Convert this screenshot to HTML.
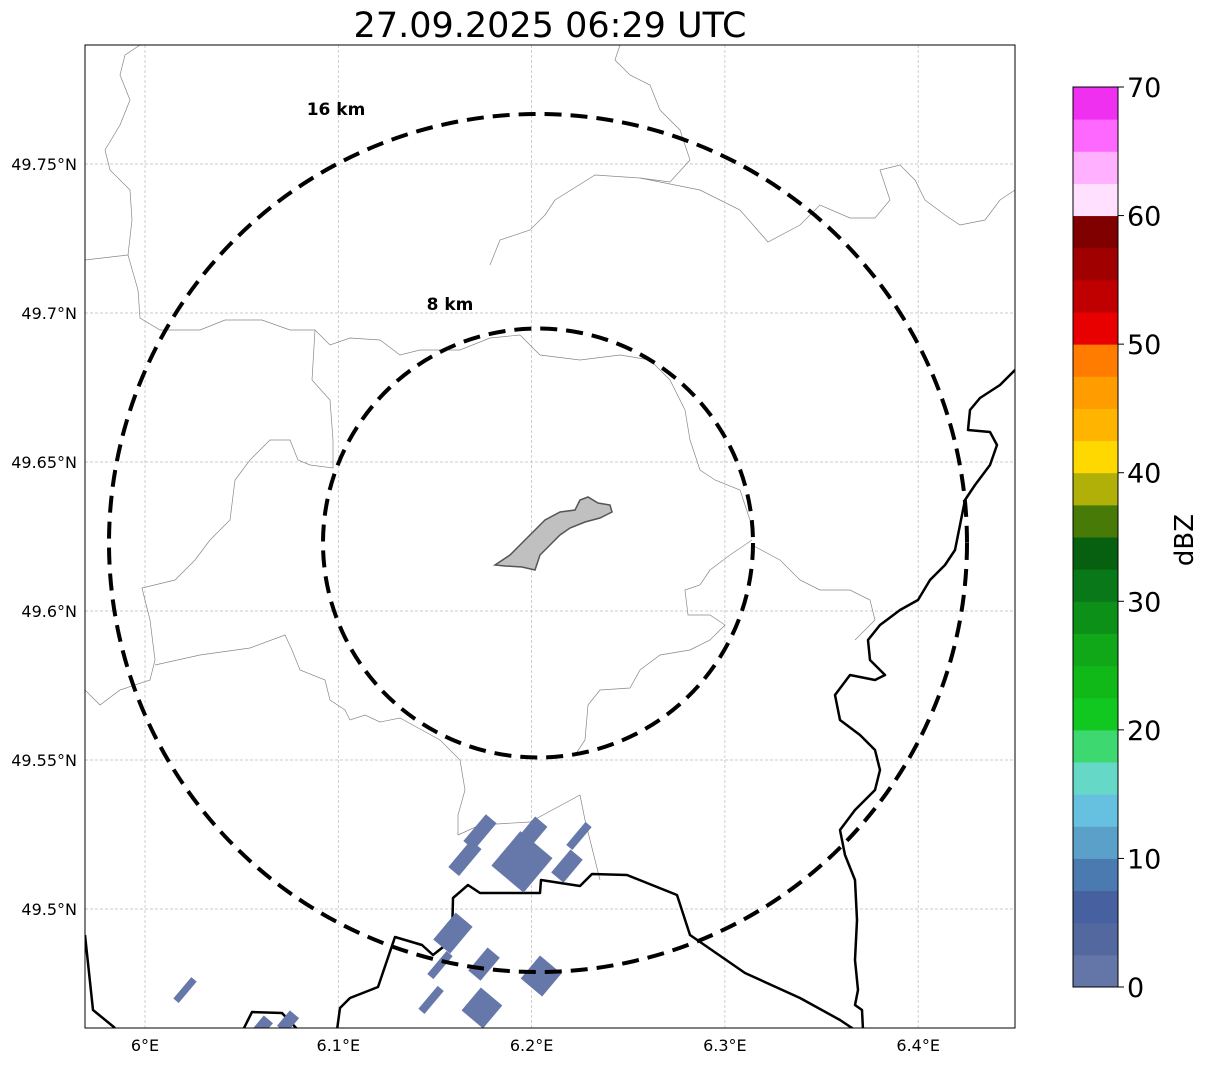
<!DOCTYPE html>
<html><head><meta charset="utf-8"><style>
body{margin:0;background:#fff;font-family:"DejaVu Sans",sans-serif}
svg text{font-family:"DejaVu Sans","Liberation Sans",sans-serif}
</style></head><body>
<svg id="c" width="1207" height="1064" viewBox="0 0 1207 1064">
<text x="550" y="37" font-size="35" text-anchor="middle">27.09.2025 06:29 UTC</text>
<defs><clipPath id="clip"><rect x="85" y="45" width="930" height="983"/></clipPath></defs>
<g id="grid"></g>
<g clip-path="url(#clip)">
<g fill="none" stroke="#888" stroke-width="0.7">
<path d="M85,260 L128,255 L138,290 L140,318 L160,330 L200,330 L225,320 L262,320 L290,330 L315,330 L330,345 L350,338 L380,340 L400,355 L420,350 L460,350 L490,338 L520,335 L540,355 L580,360 L620,355 L650,360 L670,380 L685,410 L690,440 L700,470 L715,480 L740,490 L750,520"/>
<path d="M128,255 L132,220 L130,190 L110,170 L105,150 L120,125 L130,100 L120,75 L125,55 L140,45"/>
<path d="M315,330 L312,380 L330,400 L333,440 L333,468 L310,465 L298,460 L290,440 L270,440 L250,460 L235,480 L230,520 L210,540 L195,560 L175,580 L142,588 L150,620 L155,660 L150,680 L120,690 L100,705 L85,690"/>
<path d="M155,665 L200,655 L250,648 L285,635 L292,650 L300,670 L325,680 L330,700 L345,710 L350,720 L365,715 L380,722 L400,718 L440,740 L460,760 L465,790 L458,815 L458,835"/>
<path d="M458,835 L480,825 L530,822 L580,795 L585,820 L600,880"/>
<path d="M575,755 L585,740 L588,705 L600,690 L630,688 L640,670 L660,655 L690,650 L710,640 L725,625 L710,615 L688,615 L685,590 L700,585 L710,570 L730,555 L752,540"/>
<path d="M752,545 L780,560 L800,580 L820,590 L850,590 L870,600 L875,620 L855,640"/>
<path d="M490,265 L500,240 L530,230 L545,215 L555,200 L595,175 L640,178 L670,182 L690,160 L680,130 L660,110 L650,85 L630,75 L615,60 L620,45"/>
<path d="M640,178 L700,190 L740,210 L768,242 L800,225 L820,205 L850,218 L875,218 L890,200 L880,170 L900,165 L915,180 L925,200 L945,215 L960,225 L985,220 L1000,200 L1015,190"/>
</g>
<g fill="none" stroke="#000" stroke-width="2.5" stroke-linejoin="round">
<path d="M85,935 L93,1010 L115,1028"/>
<path d="M243,1030 L252,1012 L282,1013 L298,1030"/>
<path d="M337,1030 L340,1008 L350,998 L378,987 L395,937 L422,945 L433,955 L452,940 L453,898 L468,885 L480,893 L540,893 L541,880 L580,886 L592,874 L627,875 L677,895 L690,935 L745,973 L800,998 L840,1020 L855,1030"/>
<path d="M1015,370 L1000,385 L980,398 L970,410 L968,430 L990,432 L997,445 L990,465 L975,485 L965,500 L960,525 L955,550 L945,565 L930,580 L918,600 L900,610 L880,625 L868,640 L870,660 L885,675 L875,680 L850,675 L835,695 L840,720 L860,735 L875,750 L880,770 L875,790 L855,810 L840,830 L845,855 L855,880 L857,920 L855,960 L858,990 L855,1005 L862,1010 L863,1030"/>
</g>
<polygon fill="#c0c0c0" stroke="#555" stroke-width="1.5" points="495,565 510,555 520,545 535,530 545,520 560,512 575,510 580,500 588,497 598,503 610,505 612,512 600,518 585,522 570,528 560,535 550,545 540,555 535,570 522,567 505,566"/>
<g id="blobs"></g>
<ellipse cx="538" cy="543" rx="429" ry="429" fill="none" stroke="#000" stroke-width="4" stroke-dasharray="17,9"/>
<ellipse cx="538" cy="543" rx="215" ry="214.5" fill="none" stroke="#000" stroke-width="4" stroke-dasharray="17,9"/>
</g>
<text x="336" y="115" font-size="17" font-weight="bold" text-anchor="middle">16 km</text>
<text x="450" y="310" font-size="17" font-weight="bold" text-anchor="middle">8 km</text>
<rect x="85" y="45" width="930" height="983" fill="none" stroke="#000" stroke-width="1"/>
<g id="ticks"></g>
<g id="cbar"></g>
<text transform="translate(1193,540) rotate(-90)" font-size="26" text-anchor="middle">dBZ</text>
</svg>
<script>
const lonTicks=[6,6.1,6.2,6.3,6.4];
const lonLabels=["6°E","6.1°E","6.2°E","6.3°E","6.4°E"];
const latTicks=[49.75,49.7,49.65,49.6,49.55,49.5];
const latLabels=["49.75°N","49.7°N","49.65°N","49.6°N","49.55°N","49.5°N"];
const blobLon=[6.1733,6.1655,6.1950,6.1992,6.2183,6.2245,6.1593,6.1526,6.1754,6.2049,6.1480,6.1743,6.0207,6.0605,6.0740];
const blobLat=[49.5258,49.5171,49.5158,49.5248,49.5144,49.5245,49.4919,49.4812,49.4815,49.4775,49.4695,49.4668,49.4728,49.4604,49.4621];
const blobLen=[0.0035,0.0035,0.0045,0.0035,0.003,0.003,0.0035,0.003,0.003,0.003,0.003,0.003,0.0028,0.002,0.002];
const blobWid=[0.0014,0.0014,0.0042,0.0016,0.0016,0.0008,0.0022,0.0008,0.0016,0.0028,0.0008,0.0028,0.0007,0.0012,0.0012];
const cbColors=["#6475a8","#5468a0","#4660a0","#4a7ab0","#5aa0c8","#66c0e0","#66d8c8","#3ed870","#10c820","#10b818","#10a818","#0c9018","#087818","#066010","#487a08","#b0b008","#ffd800","#ffb400","#ff9c00","#ff7c00","#e80000","#c00000","#a00000","#800000","#ffe0ff","#ffb0ff","#ff68ff","#f030f0"];
const cbTicks=[0,10,20,30,40,50,60,70];
const NS="http://www.w3.org/2000/svg";
const X=lon=>145+(lon-6)*1933;
const Y=lat=>909-(lat-49.5)*2980;
const CB=v=>987-(v/70)*900;
function mk(t,a,p){const e=document.createElementNS(NS,t);for(const k in a)e.setAttribute(k,a[k]);p.appendChild(e);return e;}
const grid=document.getElementById('grid'),ticks=document.getElementById('ticks');
lonTicks.forEach((v,i)=>{
 const l=mk('line',{x1:X(v),x2:X(v),y1:45,y2:1028,stroke:'#bbb','stroke-width':0.7,'stroke-dasharray':'3,2'},grid);
 
 
 const t=mk('text',{x:X(v),y:1051,'font-size':16,'text-anchor':'middle'},ticks);t.textContent=lonLabels[i];
 
 
});
latTicks.forEach((v,i)=>{
 const l=mk('line',{x1:85,x2:1015,y1:Y(v),y2:Y(v),stroke:'#bbb','stroke-width':0.7,'stroke-dasharray':'3,2'},grid);
 
 
 const t=mk('text',{x:77,y:Y(v)+6,'font-size':16,'text-anchor':'end'},ticks);t.textContent=latLabels[i];
 
 
});
const blobs=document.getElementById('blobs');
blobLon.forEach((v,i)=>{
 const cx=X(v),cy=Y(blobLat[i]),L=blobLen[i]*10000,W=blobWid[i]*10000;
 const r=mk('rect',{x:cx-L/2,y:cy-W/2,width:L,height:W,fill:'#6677aa',transform:`rotate(-50 ${cx} ${cy})`},blobs);
 
 
});
const cb=document.getElementById('cbar');
cbColors.forEach((c,i)=>{
 const y1=CB(i*2.5),y0=CB((i+1)*2.5);
 const r=mk('rect',{x:1073,y:y0,width:45,height:y1-y0+0.5,fill:c},cb);
 
 
});
mk('rect',{x:1073,y:87,width:45,height:900,fill:'none',stroke:'#000','stroke-width':1},cb);
cbTicks.forEach(v=>{
 mk('line',{x1:1118,x2:1124,y1:CB(v),y2:CB(v),stroke:'#000'},cb);
 const t=mk('text',{x:1127,y:CB(v)+10,'font-size':27},cb);t.textContent=v;
 
 
});
</script>
</body></html>
